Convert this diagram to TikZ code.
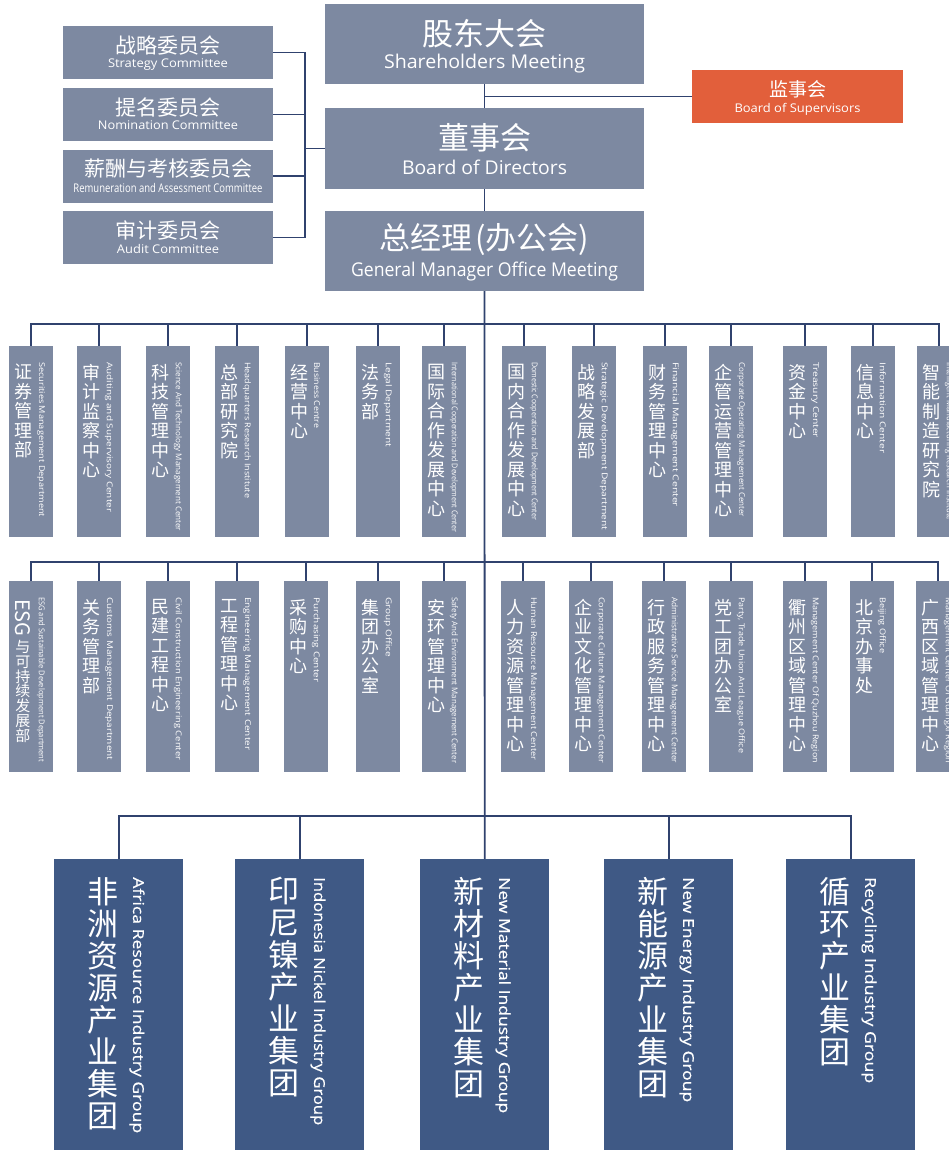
\documentclass[tikz,border=0pt]{standalone}
\usepackage{fontspec}
\usepackage{graphicx}
\setmainfont{Open Sans}
\newfontfamily\cjk{Noto Sans CJK SC}
\newfontfamily\enmed[FakeBold=0.5]{Open Sans}
\definecolor{boxgray}{RGB}{125,137,161}
\definecolor{navyb}{RGB}{63,89,133}
\definecolor{linec}{RGB}{48,66,110}
\definecolor{orangeb}{RGB}{226,95,59}
\newcommand\dept[6]{%
  \node[dbox, anchor=north west] (#1) at (#2,#3) {};
  \node[dcn, anchor=north] (#1c) at (#2+14,#3+18) {#4};
  \node[den, anchor=west, rotate=-90] (#1e) at (#2+32,#3+16) {\resizebox{#6pt}{\height}{#5}};
}
\newcommand\grp[5]{%
  \node[gbox, anchor=north west] (#1) at (#2,859) {};
  \node[gcn, anchor=north] (#1c) at (#2+49,877) {#3};
  \node[gen, anchor=west, rotate=-90] (#1e) at (#2+83,877) {\resizebox{#5pt}{\height}{#4}};
}
\begin{document}
\begin{tikzpicture}[x=1pt,y=-1pt,
  conn/.style={draw=linec, line width=1.8pt},
  tbox/.style={fill=boxgray, inner sep=0, minimum width=319pt, minimum height=80pt},
  cbox/.style={fill=boxgray, inner sep=0, minimum width=210pt, minimum height=53pt},
  sbox/.style={fill=orangeb, inner sep=0, minimum width=211pt, minimum height=53pt},
  dbox/.style={fill=boxgray, inner sep=0, minimum width=44pt, minimum height=191pt},
  gbox/.style={fill=navyb, inner sep=0, minimum width=129pt, minimum height=291pt},
  cnbig/.style={font=\cjk\fontsize{31}{33}\selectfont, text=white, inner sep=0},
  cnmid/.style={font=\cjk\fontsize{21}{23}\selectfont, text=white, inner sep=0},
  cnsup/.style={font=\cjk\fontsize{19}{21}\selectfont, text=white, inner sep=0},
  enbig/.style={font=\fontsize{19}{22}\selectfont, text=white, inner sep=0, anchor=base},
  ensm/.style={font=\fontsize{12}{14}\selectfont, text=white, inner sep=0, anchor=base},
  dcn/.style={font=\cjk\fontsize{18}{19.5}\selectfont, text=white, inner sep=0, align=center},
  dcns/.style={font=\cjk\fontsize{15}{14.8}\selectfont, text=white, inner sep=0, align=center},
  den/.style={font=\fontsize{8}{9}\selectfont, text=white, inner sep=0},
  gcn/.style={font=\cjk\fontsize{31}{32}\selectfont, text=white, inner sep=0, align=center},
  gen/.style={font=\enmed\fontsize{15}{17}\selectfont, text=white, inner sep=0}
]
\useasboundingbox (0,0) rectangle (949,1153);
\clip (0,0) rectangle (949,1153);
\fill[white] (0,0) rectangle (949,1153);

% top boxes
\node[tbox] (sh) at (484.5,44) {};
\node[cnbig] (shc) at (484.5,33.5) {股东大会};
\node[enbig] (she) at (484.5,69) {\resizebox{201pt}{\height}{Shareholders Meeting}};
\node[tbox, minimum height=81pt] (bod) at (484.5,148.5) {};
\node[cnbig] (bodc) at (484.5,137.5) {董事会};
\node[enbig] (bode) at (484.5,174) {\resizebox{165pt}{\height}{Board of Directors}};
\node[tbox] (gm) at (484.5,251) {};
\node[cnbig] (gmc) at (484.5,239.5) {总经理\kern3pt(办公会)};
\node[enbig] (gme) at (484.5,276) {\resizebox{267pt}{\height}{General Manager Office Meeting}};

% supervisors
\node[sbox] (sup) at (797.5,96.5) {};
\node[cnsup] (supc) at (797.5,89) {监事会};
\node[ensm] (supe) at (797.5,113) {\resizebox{126pt}{\height}{Board of Supervisors}};

% committees
\node[cbox] (c1) at (168,52.5) {};
\node[cnmid] (c1c) at (168,46) {战略委员会};
\node[ensm] (c1e) at (168,68) {\resizebox{120pt}{\height}{Strategy Committee}};
\node[cbox] (c2) at (168,114.5) {};
\node[cnmid] (c2c) at (168,107.5) {提名委员会};
\node[ensm] (c2e) at (168,130) {\resizebox{140pt}{\height}{Nomination Committee}};
\node[cbox] (c3) at (168,176) {};
\node[cnmid] (c3c) at (168,168.5) {薪酬与考核委员会};
\node[ensm] (c3e) at (168,192) {\resizebox{189pt}{\height}{Remuneration and Assessment Committee}};
\node[cbox] (c4) at (168,237.5) {};
\node[cnmid] (c4c) at (168,230.5) {审计委员会};
\node[ensm] (c4e) at (168,253) {\resizebox{102pt}{\height}{Audit Committee}};

% row 1
\dept{d1}{9}{346}{证\\券\\管\\理\\部}{Securities Management Department}{155}
\dept{d2}{77}{346}{审\\计\\监\\察\\中\\心}{Auditing and Supervisory Center}{150}
\dept{d3}{146}{346}{科\\技\\管\\理\\中\\心}{Science And Technology Management Center}{169}
\dept{d4}{215}{346}{总\\部\\研\\究\\院}{Headquarters Research Institute}{136}
\dept{d5}{285}{346}{经\\营\\中\\心}{Business Centre}{66}
\dept{d6}{356}{346}{法\\务\\部}{Legal Department}{85}
\dept{d7}{422}{346}{国\\际\\合\\作\\发\\展\\中\\心}{International Cooperation and Development Center}{170}
\dept{d8}{502}{346}{国\\内\\合\\作\\发\\展\\中\\心}{Domestic Cooperation and Development Center}{158}
\dept{d9}{572}{346}{战\\略\\发\\展\\部}{Strategic Development Department}{168}
\dept{d10}{643}{346}{财\\务\\管\\理\\中\\心}{Financial Management Center}{145}
\dept{d11}{709}{346}{企\\管\\运\\营\\管\\理\\中\\心}{Corporate Operating Management Center}{155}
\dept{d12}{783}{346}{资\\金\\中\\心}{Treasury Center}{76}
\dept{d13}{851}{346}{信\\息\\中\\心}{Information Center}{91}
\dept{d14}{917}{346}{智\\能\\制\\造\\研\\究\\院}{Intelligent Manufacturing Research Institute}{158}

% row 2
\node[dbox, anchor=north west] (e1) at (9,581) {};
\node[dcns, font=\cjk\fontsize{20}{20}\selectfont, anchor=west, rotate=-90] (e1s) at (23,599) {ESG};
\node[dcns, anchor=north] (e1c) at (23,640) {与\\可\\持\\续\\发\\展\\部};
\node[den, anchor=west, rotate=-90] (e1e) at (41,597) {\resizebox{165pt}{\height}{ESG and Sustainable Development Department}};
\dept{e2}{77}{581}{关\\务\\管\\理\\部}{Customs Management Department}{163}
\dept{e3}{146}{581}{民\\建\\工\\程\\中\\心}{Civil Construction Engineering Center}{163}
\dept{e4}{215}{581}{工\\程\\管\\理\\中\\心}{Engineering Management Center}{153}
\dept{e5}{284}{581}{采\\购\\中\\心}{Purchasing Center}{85}
\dept{e6}{356}{581}{集\\团\\办\\公\\室}{Group Office}{60}
\dept{e7}{422}{581}{安\\环\\管\\理\\中\\心}{Safety And Environment Management Center}{166}
\dept{e8}{501}{581}{人\\力\\资\\源\\管\\理\\中\\心}{Human Resource Management Center}{163}
\dept{e9}{569}{581}{企\\业\\文\\化\\管\\理\\中\\心}{Corporate Culture Management Center}{166}
\dept{e10}{642}{581}{行\\政\\服\\务\\管\\理\\中\\心}{Administrative Service Management Center}{166}
\dept{e11}{709}{581}{党\\工\\团\\办\\公\\室}{Party, Trade Union And League Office}{156}
\dept{e12}{783}{581}{衢\\州\\区\\域\\管\\理\\中\\心}{Management Center Of Quzhou Region}{166}
\dept{e13}{850}{581}{北\\京\\办\\事\\处}{Beijing Office}{56}
\dept{e14}{916}{581}{广\\西\\区\\域\\管\\理\\中\\心}{Management Center Of Guangxi Region}{166}

% groups
\grp{g1}{54}{非\\洲\\资\\源\\产\\业\\集\\团}{Africa Resource Industry Group}{256}
\grp{g2}{235}{印\\尼\\镍\\产\\业\\集\\团}{Indonesia Nickel Industry Group}{248}
\grp{g3}{420}{新\\材\\料\\产\\业\\集\\团}{New Material Industry Group}{236}
\grp{g4}{604}{新\\能\\源\\产\\业\\集\\团}{New Energy Industry Group}{225}
\grp{g5}{786}{循\\环\\产\\业\\集\\团}{Recycling Industry Group}{206}

% junctions
\coordinate (jsup) at (484.5,96.5);
\coordinate (cbus) at (305,148.5);
\coordinate (j1) at (484.5,324);
\coordinate (j2) at (484.5,562);
\coordinate (j3) at (484.5,816);

% connectors
\draw[conn] (sh.south) -- (bod.north);
\draw[conn] (bod.south) -- (gm.north);
\draw[conn] (gm.south) -- (g3.north);
\draw[conn, line width=1.5pt] (jsup) -- (sup.west);
\draw[conn] (cbus) -- (bod.west);
\foreach \c in {c1,c2,c3,c4} \draw[conn] (\c.east) -| (cbus);
\foreach \d in {d1,d2,d3,d4,d5,d6,d7,d8,d9,d10,d11,d12,d13,d14} \draw[conn] (j1) -| (\d.north);
\foreach \d in {e1,e2,e3,e4,e5,e6,e7,e8,e9,e10,e11,e12,e13,e14} \draw[conn] (j2) -| (\d.north);
\foreach \g in {g1,g2,g4,g5} \draw[conn, line width=1.6pt] (j3) -| (\g.north);
\end{tikzpicture}
\end{document}
